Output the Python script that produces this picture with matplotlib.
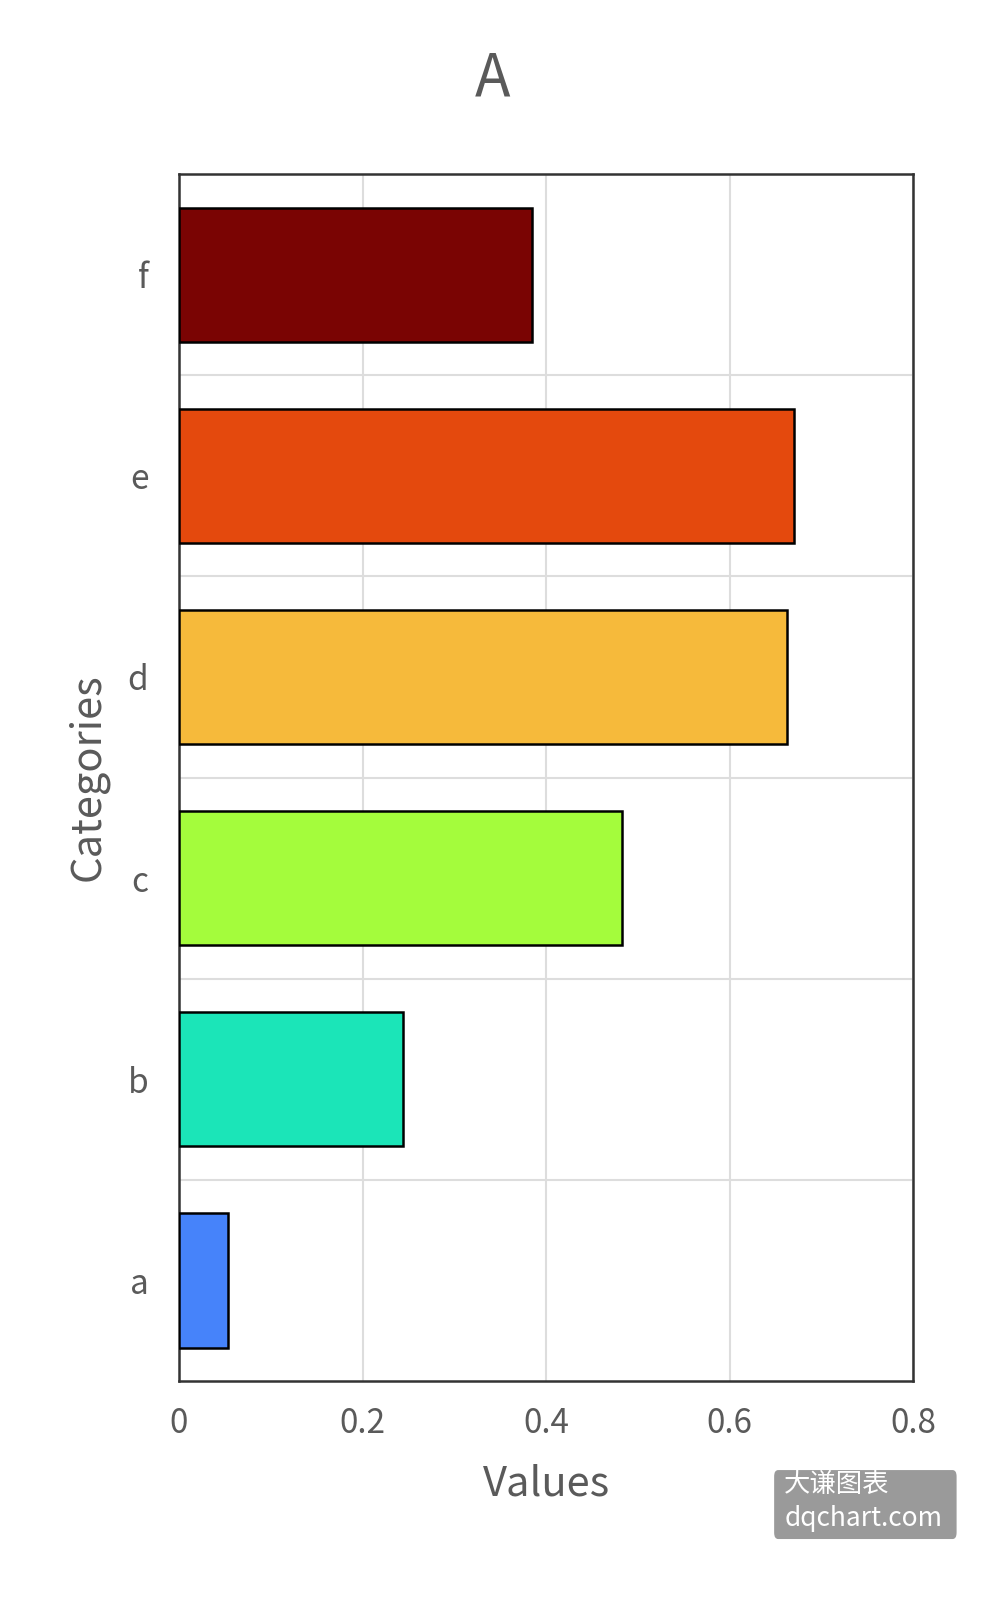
import matplotlib

matplotlib.use("Agg")

import matplotlib.pyplot as plt
from matplotlib.patches import FancyBboxPatch

plt.rcParams["font.family"] = ["Noto Sans CJK SC", "DejaVu Sans"]

categories = ["a", "b", "c", "d", "e", "f"]
values = [0.053, 0.244, 0.483, 0.663, 0.670, 0.385]
colors = ["#4683FA", "#1BE5B8", "#A4FC3C", "#F6BA3B", "#E4490D", "#7A0403"]
x_ticks = [0, 0.2, 0.4, 0.6, 0.8]
x_tick_labels = ["0", "0.2", "0.4", "0.6", "0.8"]

text_color = "#5a5a5a"

fig = plt.figure(figsize=(10.08, 16.04), dpi=100)
ax = fig.add_axes([0.1776, 0.1390, 0.7282, 0.7525])

ypos = list(range(len(categories)))
ax.barh(ypos, values, height=0.667, color=colors, edgecolor="black",
        linewidth=1.8, zorder=3)

ax.set_xlim(0, 0.8)
ax.set_ylim(-0.5, len(categories) - 0.5)
ax.set_xticks(x_ticks)
ax.set_xticklabels(x_tick_labels)
ax.set_yticks(ypos)
ax.set_yticklabels(categories)
ax.set_yticks([y + 0.5 for y in ypos[:-1]], minor=True)

ax.grid(axis="x", which="major", color="#dddddd", linewidth=1.5, zorder=0)
ax.grid(axis="y", which="minor", color="#dddddd", linewidth=1.5, zorder=0)
ax.grid(axis="y", which="major", visible=False)

ax.tick_params(axis="both", which="both", length=0)
ax.tick_params(axis="x", pad=18, labelsize=24, labelcolor=text_color)
ax.tick_params(axis="y", pad=22, labelsize=24, labelcolor=text_color)

for spine in ax.spines.values():
    spine.set_color("#333333")
    spine.set_linewidth(1.8)

ax.set_xlabel("Values", fontsize=30, color=text_color, labelpad=16)
ax.set_ylabel("Categories", fontsize=30, color=text_color, labelpad=14)
fig.text(0.489, 0.951, "A", fontsize=42, color=text_color, ha="center", va="center")

# watermark
box = FancyBboxPatch((0.768, 0.0405), 0.181, 0.043, boxstyle="round,pad=0,rounding_size=0.004",
                     transform=fig.transFigure, facecolor="#9a9a9a", edgecolor="none")
fig.patches.append(box)
fig.text(0.778, 0.0745, "大谦图表", fontsize=19, color="white", ha="left", va="center")
fig.text(0.778, 0.0535, "dqchart.com", fontsize=19, color="white", ha="left", va="center")

fig.savefig("out.png", dpi=100)
plt.close(fig)
